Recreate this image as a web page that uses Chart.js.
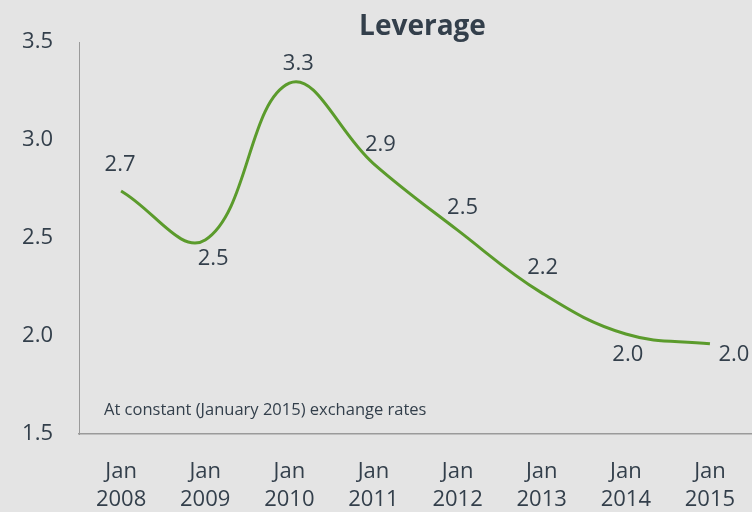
<!DOCTYPE html>
<html>
<head>
<meta charset="utf-8">
<script src="https://cdn.jsdelivr.net/npm/chart.js@4/dist/chart.umd.min.js"></script>
<style>
  html, body { margin: 0; padding: 0; background: #e4e4e4; }
  #wrap { width: 752px; height: 512px; }
</style>
</head>
<body>
<div id="wrap"><canvas id="chart" width="752" height="512"></canvas></div>
<script>
const months = ['Jan', 'Jan', 'Jan', 'Jan', 'Jan', 'Jan', 'Jan', 'Jan'];
const years = ['2008', '2009', '2010', '2011', '2012', '2013', '2014', '2015'];
const leverage = [2.74, 2.49, 3.29, 2.88, 2.54, 2.22, 2.01, 1.96];
const yTicks = [1.5, 2.0, 2.5, 3.0, 3.5];
const chartTitle = 'Leverage';
const footNote = 'At constant (January 2015) exchange rates';

const textColor = '#333f4b';
const fontFamily = '"Open Sans", "Noto Sans", sans-serif';

// where each value label sits relative to its point (dx, dy)
const labelOffsets = [[-1, -26], [8, 19], [9, -19], [7, -19], [5, -22], [1, -25], [2, 21], [24, 11]];

const overlay = {
  id: 'overlay',
  afterDatasetsDraw(chart) {
    const c = chart.ctx;
    const area = chart.chartArea;
    c.save();
    c.fillStyle = textColor;
    c.textAlign = 'center';
    c.textBaseline = 'middle';

    c.font = 'bold 28px ' + fontFamily;
    c.fillText(chartTitle, (area.left + area.right) / 2 + 7, 27);

    c.font = '22px ' + fontFamily;
    chart.getDatasetMeta(0).data.forEach((pt, i) => {
      const off = labelOffsets[i];
      c.fillText(leverage[i].toFixed(1), pt.x + off[0], pt.y + off[1]);
    });

    c.font = '16.5px ' + fontFamily;
    c.textAlign = 'left';
    c.fillText(footNote, area.left + 25, area.bottom - 24);
    c.restore();
  }
};

new Chart(document.getElementById('chart'), {
  type: 'line',
  data: {
    labels: years.map((y, i) => [months[i], y]),
    datasets: [{
      data: leverage,
      borderColor: '#5b9b2c',
      borderWidth: 3,
      pointRadius: 0,
      tension: 0.4,
      fill: false
    }]
  },
  options: {
    responsive: false,
    animation: false,
    layout: { padding: { top: 42, left: 0, right: 0, bottom: 0 } },
    plugins: {
      legend: { display: false },
      title: { display: false },
      tooltip: { enabled: false }
    },
    scales: {
      x: {
        offset: true,
        grid: { display: false, drawTicks: false },
        border: { color: '#9a9a9a', width: 1.5 },
        ticks: {
          color: textColor,
          font: { family: fontFamily, size: 22, lineHeight: 1.27 },
          padding: 24,
          maxRotation: 0,
          autoSkip: false
        },
        afterFit(scale) {
          scale.height = 78;
          scale.paddingLeft = 0;
          scale.paddingRight = 0;
        }
      },
      y: {
        min: yTicks[0],
        max: yTicks[yTicks.length - 1],
        afterBuildTicks(scale) { scale.ticks = yTicks.map(v => ({ value: v })); },
        grid: { display: false, drawTicks: false },
        border: { color: '#9a9a9a', width: 1 },
        ticks: {
          color: textColor,
          font: { family: fontFamily, size: 22 },
          padding: 26,
          callback: v => v.toFixed(1)
        },
        afterFit(scale) { scale.width = 79; }
      }
    }
  },
  plugins: [overlay]
});
</script>
</body>
</html>
